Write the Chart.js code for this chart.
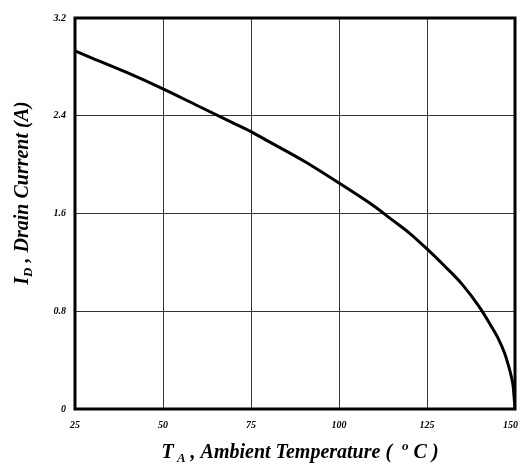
<!DOCTYPE html>
<html lang="en">
<head>
<meta charset="UTF-8">
<title>Drain Current vs Ambient Temperature</title>
<script src="https://cdn.jsdelivr.net/npm/chart.js"></script>
<style>
    html, body { margin: 0; padding: 0; background: #fff; }
    #wrap { width: 521px; height: 467px; }
</style>
</head>
<body>
<div id="wrap"><canvas id="chart" width="521" height="467"></canvas></div>
<script>
    // values
    const temps = [25, 30, 40, 50, 60, 70, 75, 80, 90, 100, 110, 115, 120, 125, 130, 135, 140, 143, 145, 147, 148, 149, 149.5, 150];
    const current = [2.93, 2.87, 2.75, 2.62, 2.48, 2.34, 2.27, 2.19, 2.03, 1.85, 1.66, 1.55, 1.44, 1.31, 1.17, 1.02, 0.83, 0.69, 0.59, 0.46, 0.37, 0.26, 0.18, 0];
    const xTicks = [25, 50, 75, 100, 125, 150];
    const yTicks = [0, 0.8, 1.6, 2.4, 3.2];
    const yTickLabels = ['0', '0.8', '1.6', '2.4', '3.2'];

    const serif = "'Liberation Serif', 'Times New Roman', serif";
    const tickFont = { family: serif, size: 10, weight: 'bold', style: 'italic' };

    // frame + axis titles (with sub/superscripts)
    const decor = {
        id: 'decor',
        beforeDraw(chart) {
            // last x label sits just inside the right edge, like the original
            const items = chart.scales.x.getLabelItems();
            const last = items[items.length - 1];
            if (last) {
                last.options.textAlign = 'right';
                last.options.translation[0] = chart.chartArea.right + 3;
            }
        },
        afterDraw(chart) {
            const ctx = chart.ctx;
            const a = chart.chartArea;
            ctx.save();
            ctx.strokeStyle = '#000';
            ctx.lineWidth = 3;
            ctx.strokeRect(a.left, a.top, a.right - a.left, a.bottom - a.top);

            const big = 'italic bold 20px ' + serif;
            const small = 'italic bold 13px ' + serif;
            ctx.fillStyle = '#000';
            ctx.textBaseline = 'alphabetic';

            function drawParts(parts, cx, cy) {
                let total = 0;
                parts.forEach(p => { ctx.font = p.f; total += ctx.measureText(p.t).width; });
                let x = cx - total / 2;
                parts.forEach(p => {
                    ctx.font = p.f;
                    ctx.fillText(p.t, x, cy + (p.dy || 0));
                    x += ctx.measureText(p.t).width;
                });
            }

            // y title
            ctx.save();
            ctx.translate(28, 193);
            ctx.rotate(-Math.PI / 2);
            drawParts([
                { t: 'I', f: big },
                { t: 'D', f: small, dy: 4 },
                { t: ' , Drain Current (A)', f: big }
            ], 0, 0);
            ctx.restore();

            // x title
            drawParts([
                { t: 'T', f: big },
                { t: ' A', f: small, dy: 4 },
                { t: ' , Ambient Temperature (  ', f: big },
                { t: 'o', f: small, dy: -8 },
                { t: ' C )', f: big }
            ], 300, 458);
            ctx.restore();
        }
    };

    new Chart(document.getElementById('chart'), {
        type: 'scatter',
        data: {
            datasets: [{
                data: temps.map((t, i) => ({ x: t, y: current[i] })),
                showLine: true,
                borderColor: '#000',
                borderWidth: 3,
                pointRadius: 0,
                cubicInterpolationMode: 'monotone',
                fill: false
            }]
        },
        options: {
            responsive: false,
            animation: false,
            layout: { padding: { left: 0, top: 18, right: 6, bottom: 0 } },
            plugins: { legend: { display: false }, tooltip: { enabled: false } },
            scales: {
                x: {
                    type: 'linear',
                    min: 25, max: 150,
                    afterBuildTicks: s => { s.ticks = xTicks.map(v => ({ value: v })); },
                    afterFit: s => { s.height = 58; s.paddingLeft = 0; s.paddingRight = 0; },
                    grid: { color: '#333', lineWidth: 1, drawTicks: false },
                    border: { display: false },
                    ticks: { font: tickFont, color: '#000', padding: 10, maxRotation: 0 }
                },
                y: {
                    min: 0, max: 3.2,
                    afterBuildTicks: s => { s.ticks = yTicks.map(v => ({ value: v })); },
                    afterFit: s => { s.width = 75; s.paddingTop = 0; s.paddingBottom = 0; },
                    grid: { color: '#333', lineWidth: 1, drawTicks: false },
                    border: { display: false },
                    ticks: {
                        font: tickFont, color: '#000', padding: 9,
                        callback: v => yTickLabels[yTicks.indexOf(v)]
                    }
                }
            }
        },
        plugins: [decor]
    });
</script>
</body>
</html>
